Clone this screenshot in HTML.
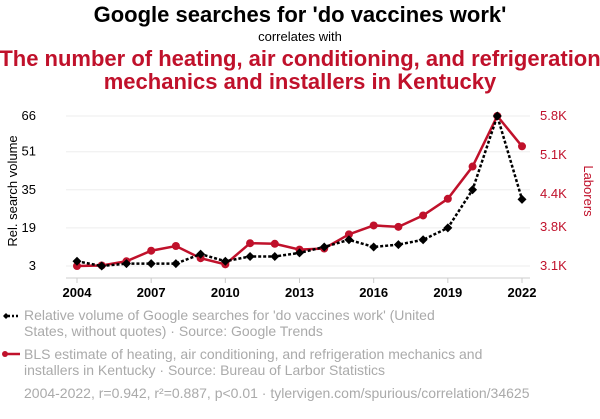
<!DOCTYPE html>
<html><head><meta charset="utf-8"><style>
body{margin:0;background:#fff;width:600px;height:414px;overflow:hidden;font-family:"Liberation Sans",sans-serif}
</style></head><body>
<svg width="600" height="414" xmlns="http://www.w3.org/2000/svg" font-family="Liberation Sans, sans-serif">
<text x="300" y="22" text-anchor="middle" font-size="22" font-weight="bold" fill="#000">Google searches for 'do vaccines work'</text>
<text x="300" y="41" text-anchor="middle" font-size="13" fill="#000">correlates with</text>
<text x="300" y="66" text-anchor="middle" font-size="22" font-weight="bold" fill="#c0112b">The number of heating, air conditioning, and refrigeration</text>
<text x="300" y="89" text-anchor="middle" font-size="22" font-weight="bold" fill="#c0112b">mechanics and installers in Kentucky</text>
<g id="grid"></g>
<line x1="66" y1="278" x2="530" y2="278" stroke="#ccc"/>
<g id="xt"></g><g id="yl"></g><g id="yr"></g>
<text transform="translate(17,191) rotate(-90)" text-anchor="middle" font-size="13" fill="#000">Rel. search volume</text>
<text transform="translate(584,191) rotate(90)" text-anchor="middle" font-size="13" fill="#c0112b">Laborers</text>
<g id="series"></g>
<g>
<line x1="4" y1="316" x2="20" y2="316" stroke="#000" stroke-width="2.5" stroke-dasharray="2,2"/>
<path d="M3,316 L6,313 L9,316 L6,319Z" fill="#000"/>
<text x="24" y="320" font-size="14" fill="#aaa">Relative volume of Google searches for 'do vaccines work' (United</text>
<text x="24" y="336" font-size="14" fill="#aaa">States, without quotes) · Source: Google Trends</text>
<line x1="4" y1="354" x2="20" y2="354" stroke="#c0112b" stroke-width="2.5"/>
<circle cx="5" cy="354" r="3" fill="#c0112b"/>
<text x="24" y="359" font-size="14" fill="#aaa">BLS estimate of heating, air conditioning, and refrigeration mechanics and</text>
<text x="24" y="375" font-size="14" fill="#aaa">installers in Kentucky · Source: Bureau of Larbor Statistics</text>
<text x="24" y="398" font-size="14" fill="#aaa">2004-2022, r=0.942, r²=0.887, p&lt;0.01 · tylervigen.com/spurious/correlation/34625</text>
</g>
</svg>
<script>
const years=[2004,2005,2006,2007,2008,2009,2010,2011,2012,2013,2014,2015,2016,2017,2018,2019,2020,2021,2022];
const searches=[5,3,4,4,4,8,5,7,7,8.5,11,14,11,12,14,19,35,66,31];
const laborers=[3100,3110,3185,3375,3460,3240,3130,3510,3500,3395,3415,3670,3830,3805,4010,4310,4890,5800,5255];
const leftTicks=[3,19,35,51,66];
const rightTicks=[3100,3800,4400,5100,5800];
const rightLabels=["3.1K","3.8K","4.4K","5.1K","5.8K"];
const xTicks=[2004,2007,2010,2013,2016,2019,2022];
const NS="http://www.w3.org/2000/svg";
const x=y=>77+(y-2004)*(445/18);
const yL=v=>266-(v-3)*150/63;
const yR=v=>266-(v-3100)*150/2700;
function mk(tag,attrs,parent,text){const e=document.createElementNS(NS,tag);for(const k in attrs)e.setAttribute(k,attrs[k]);if(text!==undefined)e.textContent=text;document.getElementById(parent).appendChild(e);return e;}
leftTicks.forEach(t=>{
 const g=mk('line',{x1:66,x2:530,y1:yL(t),y2:yL(t),stroke:'#eee'},'grid');
 
 
 const l=mk('text',{x:36,y:yL(t)+4,'text-anchor':'end','font-size':13,fill:'#000'},'yl',t);
 
 
});
rightTicks.forEach((t,i)=>{
 const l=mk('text',{x:540,y:yR(t)+4,'font-size':13,fill:'#c0112b'},'yr',rightLabels[i]);
 
 
});
xTicks.forEach(t=>{
 mk('line',{x1:x(t),x2:x(t),y1:278,y2:283,stroke:'#ccc'},'xt');
 const l=mk('text',{x:x(t),y:297,'text-anchor':'middle','font-size':13,'font-weight':'bold',fill:'#000'},'xt',t);
 
 
});
const rp=mk('polyline',{points:years.map((y,i)=>x(y)+','+yR(laborers[i])).join(' '),fill:'none',stroke:'#c0112b','stroke-width':2.5},'series');


years.forEach((y,i)=>{
 const c=mk('circle',{cx:x(y),cy:yR(laborers[i]),r:4,fill:'#c0112b'},'series');
 
 
});
const bp=mk('polyline',{points:years.map((y,i)=>x(y)+','+yL(searches[i])).join(' '),fill:'none',stroke:'#000','stroke-width':2.5,'stroke-dasharray':'3,2'},'series');


years.forEach((y,i)=>{
 const cx=x(y),cy=yL(searches[i]);
 const d=mk('path',{d:`M${cx-4.5},${cy} L${cx},${cy-4.5} L${cx+4.5},${cy} L${cx},${cy+4.5}Z`,fill:'#000'},'series');
 
 
});
</script>
</body></html>
